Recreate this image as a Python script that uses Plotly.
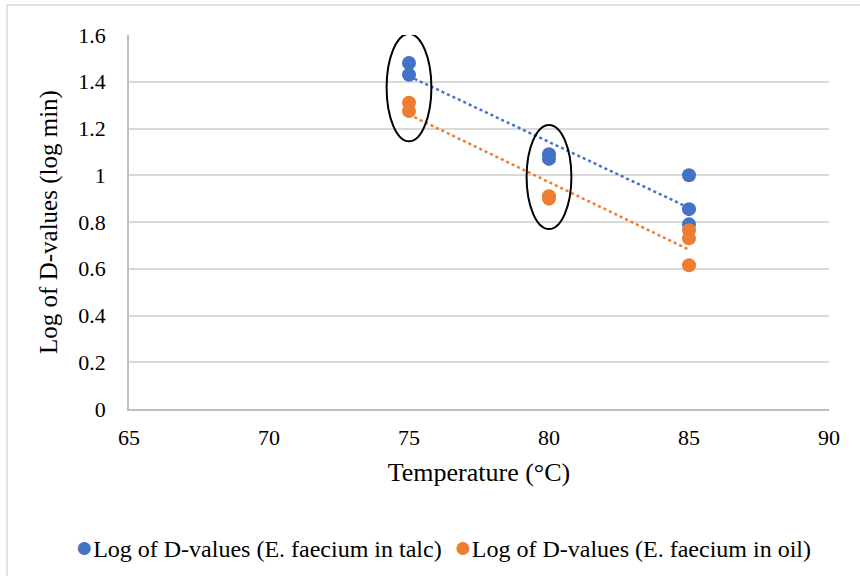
import numpy as np
import plotly.graph_objects as go

# Data
talc_temp = [75, 75, 80, 80, 85, 85, 85]
talc_logd = [1.48, 1.43, 1.09, 1.07, 1.00, 0.855, 0.79]
oil_temp = [75, 75, 80, 80, 85, 85, 85]
oil_logd = [1.31, 1.275, 0.91, 0.90, 0.765, 0.73, 0.615]
x_ticks = [65, 70, 75, 80, 85, 90]
y_ticks = [0, 0.2, 0.4, 0.6, 0.8, 1.0, 1.2, 1.4, 1.6]
y_tick_text = ["0", "0.2", "0.4", "0.6", "0.8", "1", "1.2", "1.4", "1.6"]
circled_temps = [75, 80]
series_names = ["Log of D-values (E. faecium in talc)", "Log of D-values (E. faecium in oil)"]

BLUE = "#4472C4"
ORANGE = "#ED7D31"
FONT = "Liberation Serif"

fig = go.Figure()

def trend(xs, ys):
    m, b = np.polyfit(xs, ys, 1)
    xx = np.array([min(xs), max(xs)])
    return xx, m * xx + b

series = [
    (talc_temp, talc_logd, BLUE, series_names[0]),
    (oil_temp, oil_logd, ORANGE, series_names[1]),
]

for xs, ys, col, name in series:
    tx, ty = trend(xs, ys)
    fig.add_trace(go.Scatter(x=tx, y=ty, mode="lines", showlegend=False,
                             line=dict(color=col, width=2.5, dash="dot"),
                             hoverinfo="skip"))

for xs, ys, col, name in series:
    fig.add_trace(go.Scatter(x=xs, y=ys, mode="markers", name=name,
                             marker=dict(color=col, size=14), showlegend=False))

# ellipses around groups
for t in circled_temps:
    vals = [v for x, v in zip(talc_temp + oil_temp, talc_logd + oil_logd) if x == t]
    fig.add_shape(type="circle", xref="x", yref="y",
                  x0=t - 0.8, x1=t + 0.8,
                  y0=min(vals) - 0.13, y1=max(vals) + 0.125,
                  line=dict(color="black", width=2))

# outer chart border
fig.add_shape(type="rect", xref="paper", yref="paper",
              x0=-122 / 700, x1=1.1, y0=-1.5, y1=1 + 30 / 374,
              line=dict(color="#d9d9d9", width=1.5), layer="below")

# legend drawn as one text line
legend_text = "&nbsp;&nbsp;".join(
    f"<span style='color:{col};font-size:30px'>●</span>{name}"
    for _, _, col, name in series
)
fig.add_annotation(text=legend_text, xref="paper", yref="paper",
                   x=(443 - 129) / 700, y=-(546 - 409) / 374,
                   xanchor="center", yanchor="middle", showarrow=False,
                   font=dict(family=FONT, size=24, color="black"))

fig.update_layout(
    width=860, height=576,
    margin=dict(l=129, r=31, t=35, b=167, autoexpand=False),
    paper_bgcolor="white", plot_bgcolor="white",
    font=dict(family=FONT, color="black", size=22),
    showlegend=False,
    xaxis=dict(range=[65, 90], tickvals=x_ticks, showgrid=False,
               showline=True, linecolor="#bfbfbf", linewidth=1.5, ticks="",
               zeroline=False, tickfont=dict(size=22), ticklabelstandoff=8,
               title=dict(text="Temperature (°C)", font=dict(size=26), standoff=14)),
    yaxis=dict(range=[0, 1.6], tickvals=y_ticks, ticktext=y_tick_text,
               showgrid=True, gridcolor="#d9d9d9", gridwidth=1.5,
               showline=True, linecolor="#bfbfbf", linewidth=1.5, ticks="",
               zeroline=False, tickfont=dict(size=22), ticklabelstandoff=17,
               title=dict(text="Log of D-values (log min)", font=dict(size=25), standoff=14)),
)

fig.write_html("out.html")
